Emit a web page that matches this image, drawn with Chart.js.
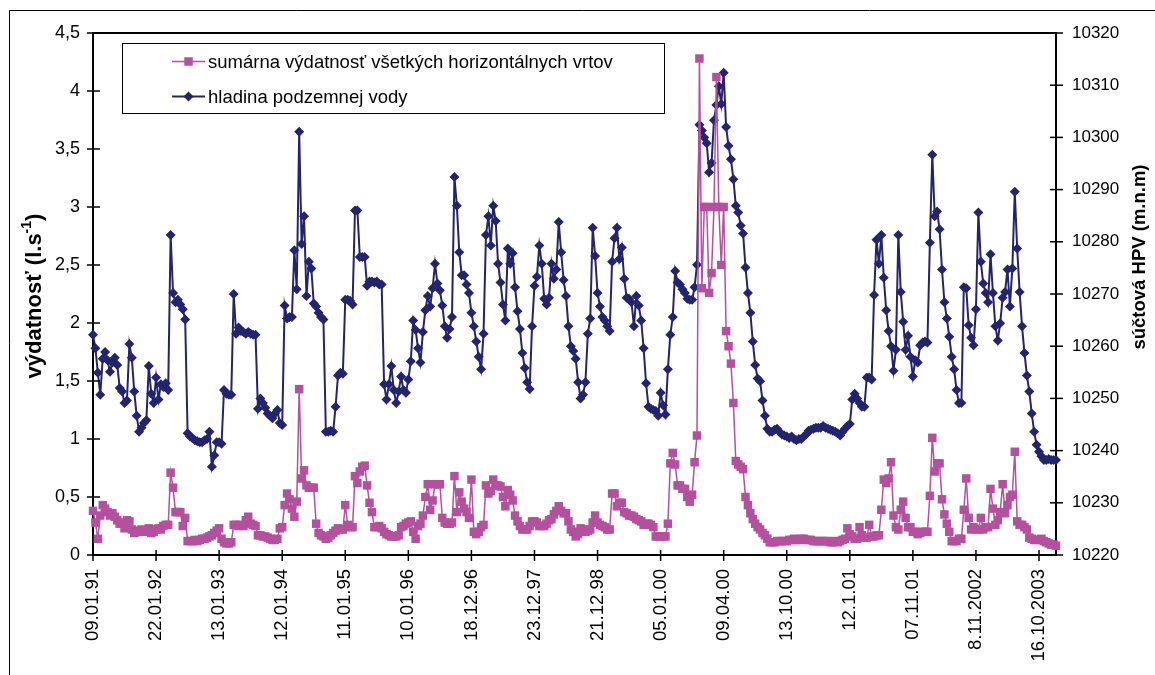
<!DOCTYPE html>
<html>
<head>
<meta charset="utf-8">
<title>výdatnosť vrtov a hladina podzemnej vody</title>
<script src="https://cdn.jsdelivr.net/npm/chart.js@4.4.0/dist/chart.umd.min.js"></script>
<style>
html, body { margin:0; padding:0; background:#fff; }
#wrap { position:relative; width:1155px; height:675px; overflow:hidden; }
</style>
</head>
<body>
<div id="wrap"><canvas id="myChart" width="1155" height="675"></canvas></div>
<script>

// dates written under the x axis, one every labelStep measurements
var tickLabels = ['09.01.91','22.01.92','13.01.93','12.01.94','11.01.95','10.01.96','18.12.96','23.12.97',
                  '21.12.98','05.01.00','09.04.00','13.10.00','12.1.01','07.11.01','8.11.2002','16.10.2003']
var labelStep = 26

// sumárna výdatnosť všetkých horizontálnych vrtov (l.s-1), left axis
var vydatnost = [
 0.38,0.28,0.14,0.34,0.43,0.40,0.37,0.34,0.36,0.33,
 0.30,0.27,0.28,0.23,0.30,0.29,0.22,0.19,0.20,0.21,
 0.22,0.20,0.21,0.23,0.19,0.20,0.22,0.23,0.22,0.25,
 0.26,0.26,0.71,0.58,0.37,0.37,0.37,0.25,0.32,0.12,
 0.12,0.12,0.13,0.12,0.13,0.14,0.14,0.15,0.16,0.17,
 0.19,0.21,0.23,0.14,0.11,0.10,0.10,0.11,0.26,0.26,
 0.25,0.26,0.25,0.30,0.33,0.27,0.26,0.25,0.17,0.17,
 0.16,0.16,0.15,0.14,0.13,0.13,0.14,0.23,0.24,0.43,
 0.53,0.48,0.40,0.33,0.46,1.43,0.66,0.73,0.60,0.58,
 0.58,0.58,0.27,0.19,0.17,0.16,0.14,0.15,0.17,0.19,
 0.21,0.23,0.22,0.22,0.43,0.26,0.24,0.24,0.68,0.62,
 0.72,0.76,0.77,0.60,0.45,0.37,0.24,0.24,0.25,0.23,
 0.20,0.18,0.17,0.16,0.16,0.16,0.17,0.24,0.25,0.27,
 0.28,0.29,0.20,0.14,0.25,0.27,0.34,0.50,0.61,0.39,
 0.47,0.61,0.61,0.61,0.32,0.28,0.27,0.27,0.28,0.68,
 0.37,0.54,0.46,0.40,0.37,0.32,0.65,0.20,0.18,0.20,
 0.24,0.26,0.60,0.53,0.55,0.65,0.60,0.60,0.59,0.50,
 0.42,0.56,0.52,0.47,0.34,0.29,0.25,0.22,0.22,0.22,
 0.25,0.29,0.29,0.28,0.25,0.25,0.25,0.27,0.30,0.31,
 0.35,0.38,0.42,0.38,0.36,0.36,0.29,0.22,0.20,0.16,
 0.18,0.23,0.22,0.20,0.21,0.22,0.28,0.34,0.28,0.26,
 0.25,0.24,0.22,0.22,0.53,0.53,0.42,0.45,0.45,0.37,
 0.36,0.34,0.34,0.33,0.31,0.30,0.29,0.26,0.27,0.27,
 0.26,0.24,0.16,0.16,0.16,0.16,0.16,0.27,0.79,0.88,
 0.78,0.60,0.60,0.57,0.57,0.50,0.46,0.52,0.80,1.03,
 4.28,2.30,3.00,3.00,2.26,2.43,3.00,4.12,3.00,2.50,
 3.00,1.93,1.80,1.65,1.31,0.81,0.78,0.76,0.74,0.50,
 0.43,0.36,0.31,0.27,0.24,0.22,0.19,0.17,0.14,0.11,
 0.11,0.11,0.12,0.12,0.12,0.12,0.12,0.13,0.13,0.14,
 0.13,0.13,0.14,0.14,0.13,0.13,0.13,0.12,0.12,0.12,
 0.12,0.12,0.12,0.12,0.11,0.11,0.12,0.11,0.12,0.13,
 0.14,0.23,0.18,0.16,0.14,0.14,0.24,0.17,0.15,0.15,
 0.26,0.16,0.16,0.17,0.17,0.39,0.65,0.62,0.66,0.80,
 0.34,0.24,0.22,0.39,0.46,0.32,0.24,0.24,0.20,0.20,
 0.18,0.19,0.20,0.20,0.20,0.51,1.01,0.72,0.79,0.79,
 0.48,0.35,0.27,0.20,0.12,0.12,0.12,0.14,0.14,0.39,
 0.66,0.32,0.22,0.24,0.22,0.22,0.32,0.22,0.24,0.24,
 0.57,0.40,0.26,0.30,0.37,0.61,0.36,0.43,0.50,0.52,
 0.89,0.29,0.26,0.26,0.24,0.22,0.15,0.14,0.13,0.13,
 0.13,0.14,0.12,0.11,0.10,0.09,0.09,0.08
]

// hladina podzemnej vody, súčtová HPV (m.n.m), right axis
var hladina = [
 10262.2,10259.6,10254.9,10250.7,10257.6,10258.9,10257.3,10255.1,10256.9,10257.8,
 10256.4,10252.0,10251.3,10249.1,10249.6,10260.4,10257.8,10251.3,10246.7,10243.6,
 10244.4,10245.3,10245.8,10256.2,10250.9,10249.1,10254.0,10249.8,10252.7,10252.2,
 10252.9,10251.6,10281.3,10270.2,10268.4,10268.9,10268.0,10267.1,10265.1,10243.3,
 10242.7,10242.4,10242.0,10241.8,10241.6,10241.6,10242.0,10242.2,10243.6,10236.9,
 10239.1,10241.6,10241.6,10241.3,10251.6,10250.9,10250.7,10250.7,10270.0,10262.4,
 10263.6,10262.9,10262.7,10262.4,10262.7,10262.4,10262.2,10262.2,10248.0,10250.0,
 10249.1,10248.2,10247.1,10246.7,10246.2,10247.1,10247.8,10245.3,10244.9,10267.8,
 10265.3,10265.6,10265.6,10278.4,10270.9,10301.1,10279.6,10284.9,10269.6,10276.2,
 10274.9,10268.2,10267.6,10266.4,10265.6,10265.1,10243.6,10243.6,10243.8,10243.6,
 10248.4,10254.4,10254.9,10254.7,10268.9,10268.9,10268.7,10268.0,10286.0,10286.0,
 10277.1,10277.1,10277.1,10271.6,10272.4,10272.4,10272.2,10272.4,10271.8,10271.8,
 10252.7,10249.8,10252.7,10256.2,10251.6,10249.1,10251.3,10254.2,10251.6,10251.1,
 10253.6,10257.1,10264.9,10263.1,10259.6,10256.9,10262.7,10266.9,10269.6,10267.6,
 10271.1,10275.8,10272.0,10270.7,10267.8,10263.8,10261.6,10263.3,10265.6,10292.4,
 10286.9,10278.0,10273.6,10273.6,10271.8,10270.2,10266.4,10263.8,10260.9,10258.0,
 10255.6,10262.4,10281.3,10284.9,10279.3,10286.9,10284.0,10275.8,10272.2,10268.0,
 10264.9,10278.7,10275.8,10277.8,10271.3,10266.7,10263.3,10258.7,10255.8,10253.1,
 10251.8,10263.8,10271.6,10273.3,10279.3,10275.8,10269.1,10268.0,10269.3,10275.8,
 10272.9,10274.7,10283.8,10278.0,10272.7,10269.6,10263.8,10260.0,10259.1,10257.6,
 10253.1,10250.0,10250.7,10253.1,10262.4,10265.3,10282.7,10277.3,10270.2,10267.6,
 10265.6,10264.9,10263.8,10262.9,10276.2,10280.7,10282.7,10276.7,10278.9,10272.9,
 10269.3,10269.1,10268.4,10263.8,10269.6,10267.8,10264.9,10259.6,10252.9,10248.4,
 10248.0,10247.8,10247.6,10246.7,10251.1,10248.7,10246.9,10255.6,10262.2,10265.6,
 10274.4,10272.2,10271.8,10270.9,10270.2,10269.1,10268.9,10268.9,10271.3,10275.6,
 10302.4,10301.3,10300.0,10298.9,10293.3,10295.1,10303.3,10306.2,10309.8,10306.4,
 10312.4,10302.0,10298.4,10295.8,10292.0,10286.9,10285.6,10283.1,10281.6,10275.1,
 10270.2,10266.4,10260.9,10256.4,10253.8,10253.3,10249.6,10246.7,10244.2,10243.6,
 10243.6,10244.0,10244.2,10243.6,10243.1,10242.9,10242.7,10242.4,10242.7,10242.2,
 10242.0,10242.2,10242.2,10242.7,10243.1,10243.8,10244.0,10244.2,10244.4,10244.4,
 10244.4,10244.7,10244.4,10244.2,10244.0,10243.8,10243.6,10243.3,10242.9,10243.6,
 10244.2,10244.7,10245.1,10249.8,10250.9,10250.0,10249.1,10248.4,10248.4,10254.0,
 10254.0,10253.6,10269.8,10280.4,10275.8,10281.3,10273.1,10266.9,10262.9,10260.0,
 10255.3,10259.3,10281.3,10270.4,10264.7,10259.3,10262.0,10258.0,10254.2,10257.3,
 10256.9,10260.2,10260.7,10260.9,10260.7,10279.8,10296.7,10284.9,10285.8,10282.4,
 10274.7,10268.4,10265.3,10261.8,10258.0,10255.6,10251.6,10249.1,10249.1,10271.3,
 10271.1,10264.0,10261.6,10260.2,10267.1,10285.6,10276.2,10272.0,10270.2,10268.4,
 10277.6,10270.2,10263.8,10261.1,10264.4,10269.3,10270.4,10274.7,10267.6,10274.9,
 10289.6,10278.7,10270.4,10263.8,10258.7,10254.4,10251.3,10247.1,10243.6,10241.1,
 10239.8,10238.9,10238.2,10238.2,10238.4,10238.2,10238.2,10238.2
]

var leftTitle = 'výdatnosť (l.s'
var rightTitle = 'súčtová HPV (m.n.m)'

var categories = []
for (var i = 0; i < vydatnost.length; i++) {
    categories.push(i % labelStep == 0 ? tickLabels[i / labelStep] : '')
}

var FONT = "'Liberation Sans', Arial, sans-serif"
Chart.defaults.font.family = FONT
Chart.defaults.color = '#000'

function tick(ctx, x1, y1, x2, y2) {
    ctx.beginPath()
    ctx.moveTo(x1, y1)
    ctx.lineTo(x2, y2)
    ctx.stroke()
}

// frame, crossing tick marks, legend box and axis titles
var decor = {
    id: 'decor',
    afterDraw: function(chart) {
        var ctx = chart.ctx
        var a = chart.chartArea
        var sx = chart.scales.x, sy = chart.scales.y, sy1 = chart.scales.y1
        ctx.save()
        ctx.strokeStyle = '#000'
        ctx.lineWidth = 1
        ctx.beginPath()
        ctx.moveTo(9.5, 700)
        ctx.lineTo(9.5, 10.5)
        ctx.lineTo(1160, 10.5)
        ctx.stroke()

        ctx.lineWidth = 2
        tick(ctx, a.left, a.top, a.right, a.top)

        ctx.lineWidth = 1.5
        sy.ticks.forEach(function(t) {
            var y = sy.getPixelForValue(t.value)
            tick(ctx, a.left - 6, y, a.left + 7, y)
        })
        sy1.ticks.forEach(function(t) {
            var y = sy1.getPixelForValue(t.value)
            tick(ctx, a.right - 6, y, a.right + 7, y)
        })
        for (var k = 0; k < categories.length; k += labelStep) {
            var x = sx.getPixelForValue(k)
            tick(ctx, x, a.bottom - 5, x, a.bottom + 6)
        }

        // legend
        ctx.fillStyle = '#fff'
        ctx.fillRect(122, 43, 542, 70)
        ctx.lineWidth = 1
        ctx.strokeRect(122.5, 43.5, 542, 70)
        chart.data.datasets.forEach(function(ds, d) {
            var y = 61.5 + d * 35
            ctx.strokeStyle = ds.borderColor
            ctx.lineWidth = ds.borderWidth
            tick(ctx, 172, y, 205, y)
            ctx.fillStyle = ds.backgroundColor
            Chart.helpers.drawPoint(ctx, {pointStyle: ds.pointStyle, radius: ds.pointRadius, rotation: 0, borderWidth: 0}, 188.5, y)
            ctx.fillStyle = '#000'
            ctx.font = '18.5px ' + FONT
            ctx.textBaseline = 'middle'
            ctx.textAlign = 'left'
            ctx.fillText(ds.label, 208, y + 1)
        })

        // axis titles
        ctx.fillStyle = '#000'
        ctx.textBaseline = 'middle'
        ctx.save()
        ctx.translate(35, 296)
        ctx.rotate(-Math.PI / 2)
        var big = 'bold 22px ' + FONT, small = 'bold 14px ' + FONT
        ctx.font = big
        var w1 = ctx.measureText(leftTitle).width
        var w3 = ctx.measureText(')').width
        ctx.font = small
        var w2 = ctx.measureText('-1').width
        var x0 = -(w1 + w2 + w3) / 2
        ctx.textAlign = 'left'
        ctx.font = big
        ctx.fillText(leftTitle, x0, 0)
        ctx.font = small
        ctx.fillText('-1', x0 + w1, -8)
        ctx.font = big
        ctx.fillText(')', x0 + w1 + w2, 0)
        ctx.restore()

        ctx.save()
        ctx.translate(1140, 257)
        ctx.rotate(-Math.PI / 2)
        ctx.font = 'bold 18.5px ' + FONT
        ctx.textAlign = 'center'
        ctx.fillText(rightTitle, 0, 0)
        ctx.restore()

        ctx.restore()
    }
}

var ctx = document.getElementById('myChart').getContext('2d')
var Chart1 = new Chart(ctx, {
    type: 'line',
    plugins: [decor],
    data: {
        labels: categories,
        datasets: [{
            label: 'sumárna výdatnosť všetkých horizontálnych vrtov',
            data: vydatnost,
            yAxisID: 'y',
            borderColor: '#B4509E',
            backgroundColor: '#B4509E',
            borderWidth: 1.5,
            pointStyle: 'rect',
            pointRadius: 6,
            pointBorderWidth: 0,
            clip: 8
        }, {
            label: 'hladina podzemnej vody',
            data: hladina,
            yAxisID: 'y1',
            borderColor: '#24246E',
            backgroundColor: '#24246E',
            borderWidth: 2,
            pointStyle: 'rectRot',
            pointRadius: 5,
            pointBorderWidth: 0,
            clip: 8
        }]
    },
    options: {
        responsive: false,
        animation: false,
        layout: { padding: { top: 33, left: 0, right: 0, bottom: 0 } },
        plugins: {
            legend: { display: false },
            tooltip: { enabled: false }
        },
        scales: {
            x: {
                grid: { display: false, drawTicks: false },
                border: { display: true, color: '#000', width: 2 },
                ticks: {
                    autoSkip: false,
                    maxRotation: 90,
                    minRotation: 90,
                    padding: 14,
                    font: { size: 18.5 }
                },
                afterFit: function(s) { s.height = 120 }
            },
            y: {
                position: 'left',
                min: 0,
                max: 4.5,
                grid: { display: false, drawTicks: false },
                border: { display: true, color: '#000', width: 2 },
                ticks: {
                    stepSize: 0.5,
                    padding: 13,
                    font: { size: 18 },
                    callback: function(v) { return String(v).replace('.', ',') }
                },
                afterFit: function(s) { s.width = 93 }
            },
            y1: {
                position: 'right',
                min: 10220,
                max: 10320,
                grid: { display: false, drawTicks: false },
                border: { display: true, color: '#000', width: 2 },
                ticks: {
                    stepSize: 10,
                    padding: 16,
                    font: { size: 17 },
                    callback: function(v) { return String(v) }
                },
                afterFit: function(s) { s.width = 99 }
            }
        }
    }
})
</script>
</body>
</html>
